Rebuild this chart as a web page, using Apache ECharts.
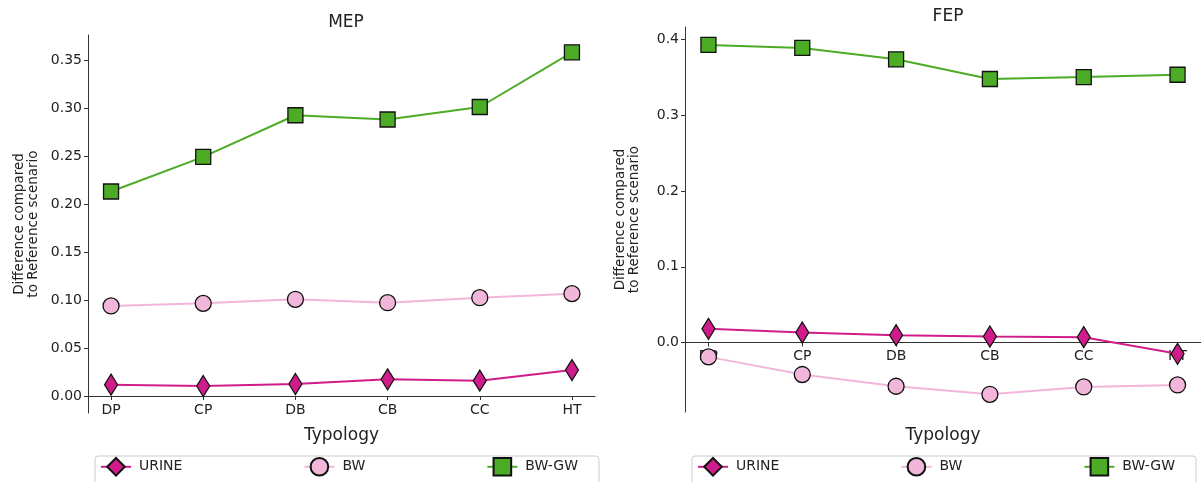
<!DOCTYPE html>
<html>
<head>
<meta charset="utf-8">
<script src="https://cdn.jsdelivr.net/npm/echarts@6/dist/echarts.min.js"></script>
<style>
html,body{margin:0;padding:0;background:#fff;}
#c{width:1201px;height:482px;}
</style>
</head>
<body>
<div id="c"></div>
<script>
const categories = ['DP','CP','DB','CB','CC','HT'];
const seriesNames = ['URINE','BW','BW-GW'];
const mepUrine = [0.0118, 0.0104, 0.0125, 0.0174, 0.0160, 0.0270];
const mepBW    = [0.0938, 0.0965, 0.1007, 0.0972, 0.1024, 0.1066];
const mepBWGW  = [0.2130, 0.2490, 0.2924, 0.2880, 0.3010, 0.3580];
const fepUrine = [0.0180, 0.0132, 0.0097, 0.0079, 0.0070, -0.0150];
const fepBW    = [-0.0190, -0.0423, -0.0578, -0.0684, -0.0587, -0.0561];
const fepBWGW  = [0.3930, 0.3890, 0.3740, 0.3480, 0.3505, 0.3536];
const mepTicks = [0.00, 0.05, 0.10, 0.15, 0.20, 0.25, 0.30, 0.35];
const fepTicks = [0.0, 0.1, 0.2, 0.3, 0.4];
const xTicks = [0, 1, 2, 3, 4, 5];

const FONT = 'DejaVu Sans';
const colors = {URINE:'#d01c8b', BW:'#f1b6da', 'BW-GW':'#4dac26'};
const symbols = {URINE:'diamond', BW:'circle', 'BW-GW':'rect'};
const sizes = {URINE:[13,21], BW:16, 'BW-GW':15};

const grids = [
  {left:88, top:35, width:507, height:378},
  {left:685, top:27, width:516, height:385}
];
const yRanges = [[-0.0177, 0.376], [-0.0918, 0.4167]];

const toPairs = arr => arr.map((v,i)=>[i,v]);

function xAxis(gridIndex, nameGap){
  const [mn, mx] = yRanges[gridIndex];
  const zeroOffset = -grids[gridIndex].height * (0 - mn) / (mx - mn);
  return {
    type:'value', gridIndex, min:-0.25, max:5.25, position:'bottom', offset:zeroOffset,
    name:'Typology', nameLocation:'middle', nameGap,
    nameTextStyle:{fontFamily:FONT, fontSize:17, color:'#222'},
    axisLine:{onZero:false, lineStyle:{color:'#333', width:1}},
    axisTick:{show:true, length:4, customValues:xTicks, lineStyle:{color:'#333'}},
    axisLabel:{customValues:xTicks, margin:7, fontFamily:FONT, fontSize:14, color:'#222',
      formatter:v=>categories[Math.round(v)]},
    splitLine:{show:false}
  };
}
function yAxis(gridIndex, ticks, digits, nameGap){
  const [mn, mx] = yRanges[gridIndex];
  return {
    type:'value', gridIndex, min:mn, max:mx,
    name:'Difference compared\nto Reference scenario', nameLocation:'middle', nameGap,
    nameTextStyle:{fontFamily:FONT, fontSize:13.5, color:'#222', lineHeight:14},
    axisLine:{show:true, onZero:false, lineStyle:{color:'#333', width:1}},
    axisTick:{show:true, length:4, customValues:ticks, lineStyle:{color:'#333'}},
    axisLabel:{customValues:ticks, margin:6, fontFamily:FONT, fontSize:14, color:'#222',
      formatter:v=>v.toFixed(digits)},
    splitLine:{show:false}
  };
}
function mk(name, data, idx){
  return {
    type:'line', name, xAxisIndex:idx, yAxisIndex:idx,
    data: toPairs(data),
    symbol:symbols[name], symbolSize:sizes[name],
    lineStyle:{color:colors[name], width:2},
    itemStyle:{color:colors[name], borderColor:'#111', borderWidth:1.3},
    z: 2 + seriesNames.indexOf(name),
    animation:false
  };
}
function legend(left){
  return {
    left, top:456, data:seriesNames,
    itemWidth:30, itemHeight:22, itemGap:121,
    padding:[1,21,8,5],
    borderColor:'#ccc', borderWidth:1, borderRadius:3, backgroundColor:'#fff',
    textStyle:{fontFamily:FONT, fontSize:14, color:'#222', padding:[0,0,0,3]},
    selectedMode:false
  };
}

const chart = echarts.init(document.getElementById('c'));
chart.setOption({
  animation:false,
  backgroundColor:'#fff',
  title:[
    {text:'MEP', left:341, top:9, textAlign:'center', textStyle:{fontFamily:FONT, fontSize:17, fontWeight:'normal', color:'#222'}},
    {text:'FEP', left:943, top:3, textAlign:'center', textStyle:{fontFamily:FONT, fontSize:17, fontWeight:'normal', color:'#222'}}
  ],
  grid: grids.map(g => Object.assign({outerBoundsMode:'none', containLabel:false}, g)),
  xAxis:[xAxis(0, 31), xAxis(1, 85)],
  yAxis:[yAxis(0, mepTicks, 2, 48), yAxis(1, fepTicks, 1, 44)],
  legend:[legend(95), legend(692)],
  series:[
    mk('URINE', mepUrine, 0), mk('BW', mepBW, 0), mk('BW-GW', mepBWGW, 0),
    mk('URINE', fepUrine, 1), mk('BW', fepBW, 1), mk('BW-GW', fepBWGW, 1)
  ]
});
</script>
</body>
</html>
